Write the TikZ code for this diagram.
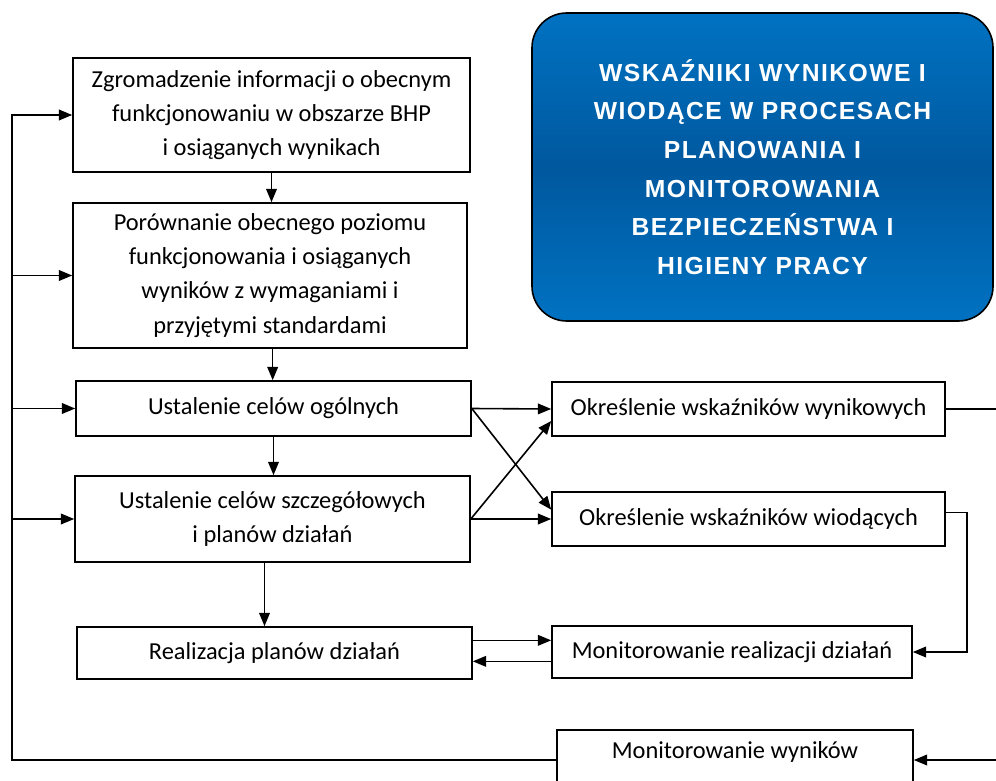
\documentclass[tikz,border=0pt]{standalone}
\usepackage{fontspec}
\setmainfont{Carlito}
\newfontfamily\titlefont[LetterSpace=6]{Liberation Sans}
\usetikzlibrary{arrows.meta,positioning,calc}
\definecolor{bhpblue}{HTML}{0072C2}
\definecolor{bhpdark}{HTML}{00589E}

\begin{document}
\begin{tikzpicture}[x=0.75pt,y=-0.75pt,line width=1.2pt,
  arr/.style={-{Triangle[length=10pt,width=8pt]}},
  box/.style={draw,rectangle,align=center,inner sep=0pt,line width=1.2pt,
    font=\fontsize{18.3}{25.6}\selectfont},
  titlebox/.style={draw,rectangle,rounded corners=26pt,align=center,inner sep=0pt,
    top color=bhpblue,bottom color=bhpblue,middle color=bhpdark,text=white,
    minimum width=345.75pt,minimum height=231pt,
    font=\titlefont\bfseries\fontsize{18.5}{29}\selectfont}]
  \useasboundingbox (0,0) rectangle (996,781);
  \clip (0,0) rectangle (996,781);
  \coordinate (lft) at (12,0);
  \coordinate (rgt) at (996,0);
%
  \node[titlebox] (title) at (762.5,167) {WSKAŹNIKI WYNIKOWE I\\WIODĄCE W PROCESACH\\PLANOWANIA I\\MONITOROWANIA\\BEZPIECZEŃSTWA I\\HIGIENY PRACY};
%
  \node[box,minimum width=297.75pt,minimum height=85.5pt] (info) at (271.5,115) {Zgromadzenie informacji o obecnym\\funkcjonowaniu w obszarze BHP\\i osiąganych wynikach};
  \node[box,minimum width=295.5pt,minimum height=108.75pt] (comp) at (270,275.5) {Porównanie obecnego poziomu\\funkcjonowania i osiąganych\\wyników z wymaganiami i\\przyjętymi standardami};
  \node[box,minimum width=296.25pt,minimum height=41.25pt] (gen) at (273.5,408.5) {Ustalenie celów ogólnych};
  \node[box,minimum width=296.25pt,minimum height=64.5pt] (det) at (272.5,519) {Ustalenie celów szczegółowych\\i planów działań};
  \node[box,minimum width=296.25pt,minimum height=39pt] (real) at (274.5,653) {Realizacja planów działań};
  \node[box,minimum width=294.75pt,minimum height=40.5pt] (wyn) at (748.5,409) {Określenie wskaźników wynikowych};
  \node[box,minimum width=294.75pt,minimum height=40.5pt] (wio) at (748.5,519) {Określenie wskaźników wiodących};
  \node[box,minimum width=270pt,minimum height=39pt] (mreal) at (732,652) {Monitorowanie realizacji działań};
  \node[box,minimum width=267pt,minimum height=45pt,
    label={[yshift=6pt,font=\fontsize{18.3}{25.6}\selectfont]center:Monitorowanie wyników}] (mwyn) at (735,760) {};
%
  \draw[arr] (info.south) -- (info.south |- comp.north);
  \draw[arr] ([xshift=2pt]comp.south) -- ([xshift=2pt]comp.south |- gen.north);
  \draw[arr] (gen.south) -- (gen.south |- det.north);
  \draw[arr] ([xshift=-6pt]det.south) -- ([xshift=-6pt]det.south |- real.north);
%
  \draw[arr] (gen.east) -- (wyn.west);
  \draw[arr] (gen.east) -- ([yshift=7pt]wio.west);
  \draw[arr] (det.east) -- ([yshift=-9pt]wyn.west);
  \draw[arr] (det.east) -- (wio.west);
%
  \draw[arr] ([yshift=9.5pt]real.east) -- ([yshift=9.5pt]real.east -| mreal.west);
  \draw[arr] ([yshift=-7pt]mreal.west) -- ([yshift=-7pt]mreal.west -| real.east);
  \draw[arr] ([yshift=5pt]wio.east) -- ++(15.75pt,0) |- (mreal.east);
%
  \draw (wyn.east) -- (wyn.east -| rgt);
  \draw[arr] (mwyn.east -| rgt) -- (mwyn.east);
%
  \draw[arr] (mwyn.west) -- (mwyn.west -| lft) |- (info.west);
  \draw[arr] (comp.west -| lft) -- (comp.west);
  \draw[arr] (gen.west -| lft) -- (gen.west);
  \draw[arr] (det.west -| lft) -- (det.west);
%
\end{tikzpicture}
\end{document}
